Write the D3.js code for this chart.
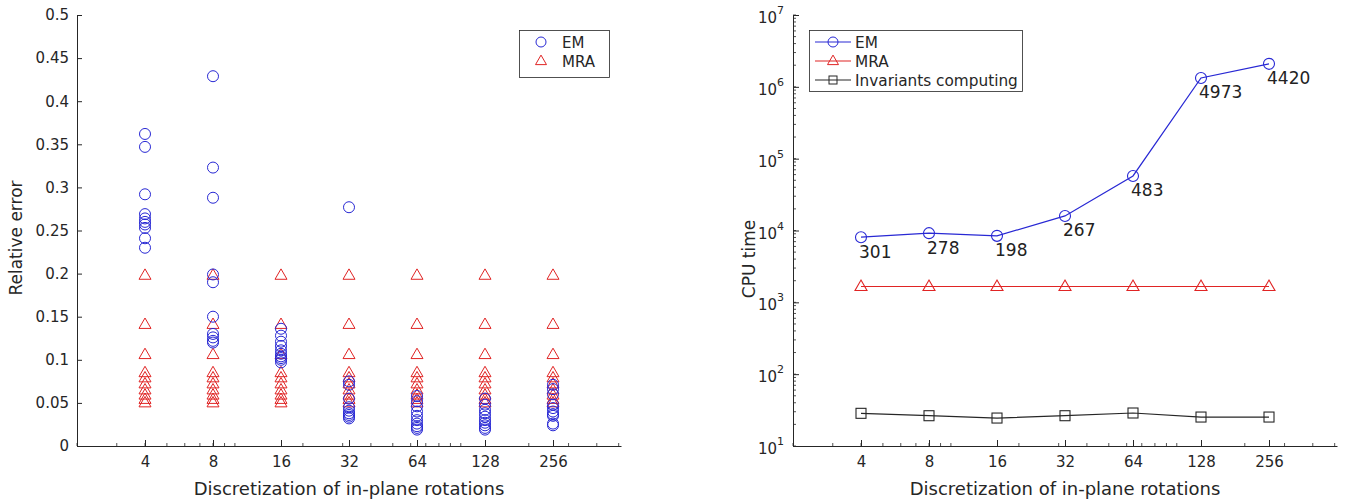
<!DOCTYPE html>
<html><head><meta charset="utf-8">
<script src="https://cdn.jsdelivr.net/npm/d3@7/dist/d3.min.js"></script>
<style>
html,body{margin:0;padding:0;background:#fff;}
svg{display:block;font-family:"DejaVu Sans",sans-serif;}
</style></head>
<body><svg id="chart" width="1357" height="504"></svg>
<script>
// ---------- data ----------
const rotations = [4, 8, 16, 32, 64, 128, 256];
const errorTicks = [0, 0.05, 0.1, 0.15, 0.2, 0.25, 0.3, 0.35, 0.4, 0.45, 0.5];
const emError = [
  [0.362, 0.347, 0.292, 0.269, 0.264, 0.260, 0.257, 0.253, 0.241, 0.230],
  [0.429, 0.323, 0.288, 0.199, 0.190, 0.150, 0.130, 0.126, 0.122, 0.120],
  [0.136, 0.128, 0.121, 0.116, 0.111, 0.107, 0.104, 0.102, 0.100, 0.097],
  [0.277, 0.075, 0.071, 0.055, 0.045, 0.041, 0.038, 0.036, 0.034, 0.032],
  [0.058, 0.052, 0.046, 0.040, 0.035, 0.030, 0.026, 0.023, 0.021, 0.019],
  [0.055, 0.048, 0.042, 0.038, 0.034, 0.030, 0.027, 0.024, 0.021, 0.019],
  [0.071, 0.066, 0.060, 0.048, 0.044, 0.040, 0.037, 0.035, 0.026, 0.024]
];
const mraError = [
  [0.198, 0.141, 0.106, 0.085, 0.079, 0.072, 0.065, 0.059, 0.054, 0.050],
  [0.198, 0.141, 0.106, 0.085, 0.079, 0.072, 0.065, 0.059, 0.054, 0.050],
  [0.198, 0.141, 0.106, 0.085, 0.079, 0.072, 0.065, 0.059, 0.054, 0.050],
  [0.198, 0.141, 0.106, 0.085, 0.079, 0.072, 0.065, 0.059, 0.054, 0.050],
  [0.198, 0.141, 0.106, 0.085, 0.079, 0.072, 0.065, 0.059, 0.054, 0.050],
  [0.198, 0.141, 0.106, 0.085, 0.079, 0.072, 0.065, 0.059, 0.054, 0.050],
  [0.198, 0.141, 0.106, 0.085, 0.079, 0.072, 0.065, 0.059, 0.054, 0.050]
];
const emTime = [8070, 9180, 8420, 15950, 57500, 1330000, 2090000];
const mraTime = [1660, 1660, 1660, 1660, 1660, 1660, 1660];
const invTime = [28.5, 26.4, 24.5, 26.4, 28.8, 25.3, 25.3];
const emTimeLabels = ["301", "278", "198", "267", "483", "4973", "4420"];
const timeDecades = [1, 2, 3, 4, 5, 6, 7];
const xTitle = "Discretization of in-plane rotations";

// ---------- styles ----------
const BLUE = "#2828d4", RED = "#e02424", BLACK = "#262626", AX = "#262626";
const svg = d3.select("#chart");
const yTop = 15, yBottom = 446;

function minorLogTicks(lo, hi) {
  const t = [];
  for (let e = Math.floor(Math.log10(lo)); e <= Math.ceil(Math.log10(hi)); e++) {
    for (let m = 1; m <= 9; m++) {
      const v = m * Math.pow(10, e);
      if (v >= lo && v <= hi) t.push(v);
    }
  }
  return t;
}

function drawXAxis(g, x) {
  const minors = minorLogTicks(2, 512);
  g.append("g").selectAll("line").data(minors).join("line")
    .attr("x1", d => x(d)).attr("x2", d => x(d))
    .attr("y1", yBottom).attr("y2", yBottom - 3)
    .attr("stroke", AX).attr("stroke-width", 0.8);
  const ax = g.append("g").attr("transform", `translate(0,${yBottom})`)
    .call(d3.axisBottom(x).tickValues(rotations).tickFormat(d3.format("d")).tickSizeInner(-6).tickSizeOuter(0).tickPadding(10));
  ax.select(".domain").attr("stroke", AX);
  ax.selectAll(".tick line").attr("stroke", AX);
  ax.selectAll(".tick text").attr("fill", AX).style("font-size", "15px").style("font-family", "DejaVu Sans");
  g.append("text").attr("x", (x.range()[0] + x.range()[1]) / 2).attr("y", 495)
    .attr("text-anchor", "middle").attr("fill", AX).style("font-size", "18px").text(xTitle);
}

function triPath(cx, cy, s) {
  const h = s * 0.866;
  return `M${cx},${cy - h * 0.62}L${cx + s / 2},${cy + h * 0.38}L${cx - s / 2},${cy + h * 0.38}Z`;
}

// ---------- left plot ----------
const gL = svg.append("g");
const xL = d3.scaleLog().base(2).domain([2, 512]).range([77, 621]);
const yL = d3.scaleLinear().domain([0, 0.5]).range([yBottom, yTop]);

const ayL = gL.append("g").attr("transform", "translate(77,0)")
  .call(d3.axisLeft(yL).tickValues(errorTicks).tickFormat(d => d === 0 ? "0" : String(+d.toFixed(2))).tickSizeInner(-5).tickSizeOuter(0).tickPadding(8));
ayL.select(".domain").attr("stroke", AX);
ayL.selectAll(".tick line").attr("stroke", AX);
ayL.selectAll(".tick text").attr("fill", AX).style("font-size", "15px").style("font-family", "DejaVu Sans");
drawXAxis(gL, xL);
gL.append("text").attr("transform", "translate(22,238) rotate(-90)").attr("text-anchor", "middle")
  .attr("fill", AX).style("font-size", "17px").text("Relative error");

const mraPts = [], emPts = [];
rotations.forEach((r, i) => {
  mraError[i].forEach(v => mraPts.push({ r, v }));
  emError[i].forEach(v => emPts.push({ r, v }));
});
gL.append("g").selectAll("path").data(mraPts).join("path")
  .attr("d", d => triPath(xL(d.r), yL(d.v), 12))
  .attr("fill", "none").attr("stroke", RED).attr("stroke-width", 1);
gL.append("g").selectAll("circle").data(emPts).join("circle")
  .attr("cx", d => xL(d.r)).attr("cy", d => yL(d.v)).attr("r", 5.5)
  .attr("fill", "none").attr("stroke", BLUE).attr("stroke-width", 1);

const lgL = gL.append("g");
lgL.append("rect").attr("x", 519.5).attr("y", 30.5).attr("width", 90).attr("height", 47)
  .attr("fill", "#fff").attr("stroke", AX).attr("stroke-width", 0.8);
lgL.append("circle").attr("cx", 541).attr("cy", 42).attr("r", 5).attr("fill", "none").attr("stroke", BLUE);
lgL.append("path").attr("d", triPath(541, 61, 11)).attr("fill", "none").attr("stroke", RED);
lgL.append("text").attr("x", 562).attr("y", 47.5).attr("fill", AX).style("font-size", "15px").text("EM");
lgL.append("text").attr("x", 562).attr("y", 66.5).attr("fill", AX).style("font-size", "15px").text("MRA");

// ---------- right plot ----------
const gR = svg.append("g");
const xR = d3.scaleLog().base(2).domain([2, 512]).range([793, 1337]);
const yR = d3.scaleLog().domain([10, 1e7]).range([yBottom, yTop]);

gR.append("g").selectAll("line").data(minorLogTicks(10, 1e7)).join("line")
  .attr("x1", 793).attr("x2", 796).attr("y1", d => yR(d)).attr("y2", d => yR(d))
  .attr("stroke", AX).attr("stroke-width", 0.8);
const ayR = gR.append("g").attr("transform", "translate(793,0)")
  .call(d3.axisLeft(yR).tickValues(timeDecades.map(e => Math.pow(10, e))).tickFormat("").tickSizeInner(-6).tickSizeOuter(0));
ayR.select(".domain").attr("stroke", AX);
ayR.selectAll(".tick line").attr("stroke", AX);
const decLab = gR.append("g").selectAll("text").data(timeDecades).join("text")
  .attr("x", 784).attr("y", e => yR(Math.pow(10, e)) + 8).attr("text-anchor", "end")
  .attr("fill", AX).style("font-size", "15px");
decLab.append("tspan").text("10");
decLab.append("tspan").attr("dy", -9).style("font-size", "11px").text(e => e);
drawXAxis(gR, xR);
gR.append("text").attr("transform", "translate(755,259) rotate(-90)").attr("text-anchor", "middle")
  .attr("fill", AX).style("font-size", "17px").text("CPU time");

const line = d3.line().x((d, i) => xR(rotations[i])).y(d => yR(d));
gR.append("path").attr("d", line(emTime)).attr("fill", "none").attr("stroke", BLUE).attr("stroke-width", 1.2);
gR.append("path").attr("d", line(mraTime)).attr("fill", "none").attr("stroke", RED).attr("stroke-width", 1.2);
gR.append("path").attr("d", line(invTime)).attr("fill", "none").attr("stroke", BLACK).attr("stroke-width", 1.2);
gR.append("g").selectAll("circle").data(emTime).join("circle")
  .attr("cx", (d, i) => xR(rotations[i])).attr("cy", d => yR(d)).attr("r", 5.5)
  .attr("fill", "none").attr("stroke", BLUE).attr("stroke-width", 1.1);
gR.append("g").selectAll("path").data(mraTime).join("path")
  .attr("d", (d, i) => triPath(xR(rotations[i]), yR(d), 12))
  .attr("fill", "none").attr("stroke", RED).attr("stroke-width", 1.1);
gR.append("g").selectAll("rect").data(invTime).join("rect")
  .attr("x", (d, i) => xR(rotations[i]) - 5).attr("y", d => yR(d) - 5).attr("width", 10).attr("height", 10)
  .attr("fill", "none").attr("stroke", BLACK).attr("stroke-width", 1.1);
gR.append("g").selectAll("text").data(emTime).join("text")
  .attr("x", (d, i) => xR(rotations[i]) - 2).attr("y", d => yR(d) + 20.5)
  .attr("fill", "#222").style("font-size", "17px").text((d, i) => emTimeLabels[i]);

const lgR = gR.append("g");
lgR.append("rect").attr("x", 809.5).attr("y", 30.5).attr("width", 213).attr("height", 61)
  .attr("fill", "#fff").attr("stroke", AX).attr("stroke-width", 0.8);
const legItems = [
  { name: "EM", color: BLUE, mark: "circle" },
  { name: "MRA", color: RED, mark: "tri" },
  { name: "Invariants computing", color: BLACK, mark: "square" }
];
legItems.forEach((it, k) => {
  const cy = 42 + k * 19;
  lgR.append("line").attr("x1", 815).attr("x2", 851).attr("y1", cy).attr("y2", cy).attr("stroke", it.color).attr("stroke-width", 1.1);
  if (it.mark === "circle") lgR.append("circle").attr("cx", 833).attr("cy", cy).attr("r", 5).attr("fill", "none").attr("stroke", it.color);
  if (it.mark === "tri") lgR.append("path").attr("d", triPath(833, cy, 11)).attr("fill", "none").attr("stroke", it.color);
  if (it.mark === "square") lgR.append("rect").attr("x", 829).attr("y", cy - 4).attr("width", 8).attr("height", 8).attr("fill", "none").attr("stroke", it.color);
  lgR.append("text").attr("x", 855).attr("y", cy + 5.5).attr("fill", AX).style("font-size", "15.3px").text(it.name);
});
</script></body></html>
